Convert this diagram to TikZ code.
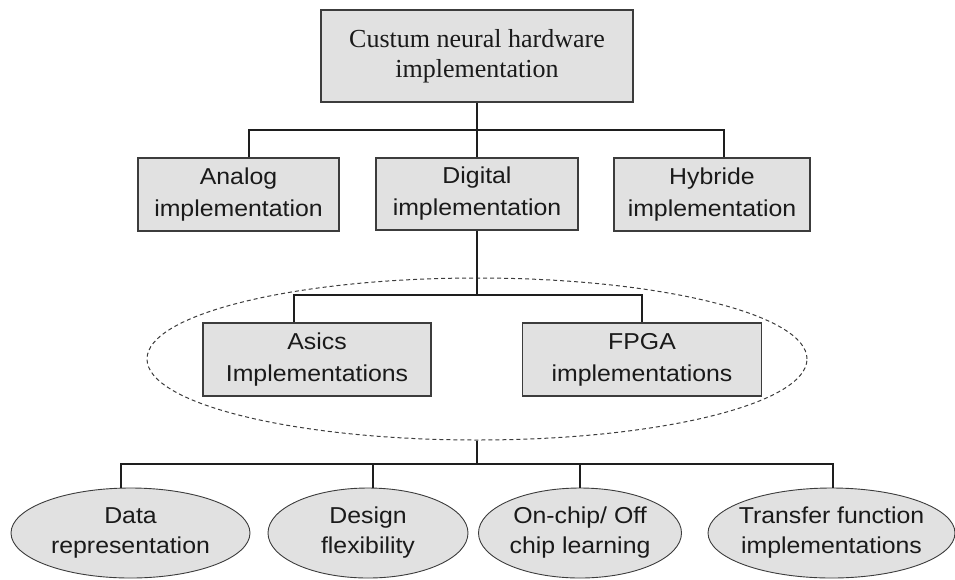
\documentclass[tikz,border=0pt]{standalone}
\usepackage{fontspec}
\setmainfont{Liberation Serif}
\newfontfamily\sanslbl[FakeStretch=1.08]{Liberation Sans}
\usetikzlibrary{shapes.geometric,calc}
\definecolor{boxfill}{HTML}{E1E1E1}
\definecolor{boxline}{HTML}{3C3C3C}
\definecolor{wire}{HTML}{1E1E1E}
\definecolor{textcol}{HTML}{1A1A1A}
\tikzset{
  rootbox/.style={draw=boxline, fill=boxfill, line width=1.2pt, inner sep=0pt,
    align=center, text=textcol, font=\fontsize{26}{30}\selectfont},
  card/.style={draw=boxline, fill=boxfill, line width=1.2pt, inner sep=0pt,
    align=center, text=textcol, font=\sanslbl\fontsize{23}{32}\selectfont},
  oval/.style={draw=boxline, fill=boxfill, ellipse, line width=0.9pt, inner sep=0pt,
    minimum height=90pt},
  ovaltext/.style={align=center, text=textcol, font=\sanslbl\fontsize{23}{30}\selectfont},
  group/.style={draw=boxline, ellipse, dash pattern=on 4pt off 3pt,
    line width=1pt, inner sep=0pt},
  conn/.style={draw=wire, line width=2pt}
}
\begin{document}
\begin{tikzpicture}[x=1pt,y=-1pt]
\useasboundingbox (0,0) rectangle (955,579);

% dashed grouping of the digital realisations
\node[group, minimum width=660pt, minimum height=162pt] (grp) at (477,359) {};

% bus junctions
\coordinate (b1) at (477,130);
\coordinate (b2) at (477,295);
\coordinate (b3) at (477,464);

% boxes
\node[rootbox, minimum width=312pt, minimum height=92pt] (top) at (477,56)
  {Custum neural hardware\\implementation};
\node[card, minimum width=201pt, minimum height=73pt] (an) at (238.5,194.5)
  {Analog\\implementation};
\node[card, minimum width=202pt, minimum height=72pt] (dg) at (477,194)
  {Digital\\implementation};
\node[card, minimum width=196pt, minimum height=73pt] (hy) at (712,194.5)
  {Hybride\\implementation};
\node[card, minimum width=228pt, minimum height=73pt] (as) at (317,359.5)
  {Asics\\Implementations};
\node[card, minimum width=239pt, minimum height=73pt] (fp) at (642,359.5)
  {FPGA\\implementations};

% design aspects
\node[oval, minimum width=239pt] (da) at (130.5,533) {};
\node[ovaltext] at (da) {Data\\representation};
\node[oval, minimum width=200pt] (de) at (368,533) {};
\node[ovaltext] at (de) {Design\\flexibility};
\node[oval, minimum width=203pt] (oc) at (580,533) {};
\node[ovaltext] at (oc) {On-chip/ Off\\chip learning};
\node[oval, minimum width=247pt] (tf) at (831.5,533) {};
\node[ovaltext] at (tf) {Transfer function\\implementations};

% tap points on the upper edges
\path ([xshift=10.5pt]an.north) coordinate (anTop);
\path ([xshift=12pt]hy.north) coordinate (hyTop);
\path ([xshift=-23pt]as.north) coordinate (asTop);
\path ([xshift=-9.5pt]da.north) coordinate (daTop);
\path ([xshift=5pt]de.north) coordinate (deTop);
\path ([xshift=1.5pt]tf.north) coordinate (tfTop);

% connectors
\draw[conn] (top.south) -- (b1);
\draw[conn] (anTop) |- (b1) -| (hyTop);
\draw[conn] (b1) -- (dg.north);

\draw[conn] (dg.south) -- (b2);
\draw[conn] (asTop) |- (b2) -| (fp.north);

\draw[conn] (grp.south) -- (b3);
\draw[conn] (daTop) |- (b3) -| (tfTop);
\draw[conn] (deTop) -- (deTop |- b3);
\draw[conn] (oc.north) -- (oc.north |- b3);
\end{tikzpicture}
\end{document}
